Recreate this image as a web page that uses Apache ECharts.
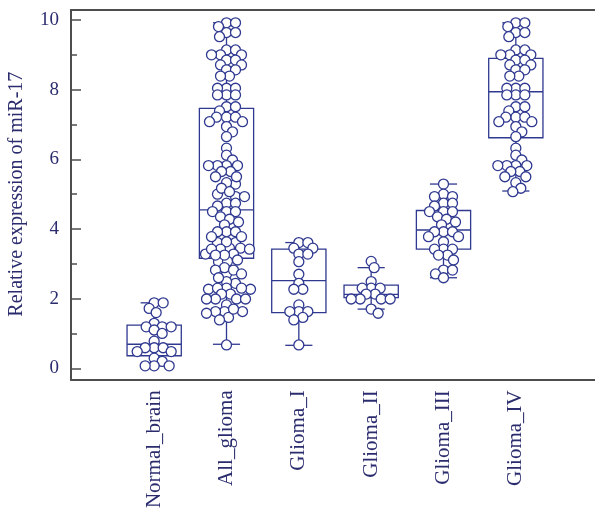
<!DOCTYPE html>
<html>
<head>
<meta charset="utf-8">
<script src="https://cdn.jsdelivr.net/npm/echarts@6/dist/echarts.min.js"></script>
<style>
  html, body { margin: 0; padding: 0; background: #fff; }
  #chart { width: 595px; height: 510px; }
</style>
</head>
<body>
<div id="chart"></div>
<script>
var categories = ['Normal_brain', 'All_glioma', 'Glioma_I', 'Glioma_II', 'Glioma_III', 'Glioma_IV'];
var yTicks = [0, 2, 4, 6, 8, 10];

// individual samples
var normalBrain = [1.88, 1.88, 1.72, 1.60, 1.29, 1.19, 1.19, 1.19, 1.10, 1.00, 0.78, 0.59, 0.59, 0.59, 0.48, 0.48, 0.29, 0.20, 0.07, 0.07, 0.07];
var gliomaI = [3.61, 3.61, 3.45, 3.45, 3.28, 3.28, 3.06, 2.70, 2.44, 2.27, 2.27, 1.82, 1.63, 1.63, 1.63, 1.46, 1.39, 0.67];
var gliomaII = [3.07, 2.89, 2.49, 2.30, 2.30, 2.30, 2.13, 2.13, 1.99, 1.99, 1.99, 1.99, 1.70, 1.58];
var gliomaIII = [5.29, 5.00, 4.93, 4.93, 4.74, 4.74, 4.66, 4.50, 4.50, 4.50, 4.35, 4.28, 4.20, 4.12, 3.92, 3.92, 3.92, 3.78, 3.78, 3.63, 3.42, 3.42, 3.42, 3.25, 3.25, 3.11, 2.82, 2.82, 2.71, 2.60];
var gliomaIV = [9.92, 9.92, 9.81, 9.64, 9.64, 9.52, 9.14, 9.14, 9.00, 9.00, 9.00, 8.85, 8.85, 8.71, 8.71, 8.57, 8.57, 8.39, 8.39, 8.04, 8.04, 8.04, 7.85, 7.85, 7.85, 7.51, 7.51, 7.39, 7.21, 7.21, 7.21, 7.08, 7.08, 6.94, 6.79, 6.65, 6.32, 6.12, 5.98, 5.82, 5.82, 5.82, 5.82, 5.65, 5.65, 5.50, 5.50, 5.33, 5.17, 5.07];
// all glioma = every graded sample together
var allGlioma = gliomaI.concat(gliomaII, gliomaIII, gliomaIV);

// box stats: [min, Q1, median, Q3, max]
var boxStats = [
    [0.07, 0.36, 0.69, 1.24, 1.88],
    [0.69, 3.16, 4.55, 7.46, 9.92],
    [0.66, 1.60, 2.52, 3.42, 3.61],
    [1.70, 2.03, 2.12, 2.39, 2.89],
    [2.60, 3.42, 3.97, 4.53, 5.29],
    [5.09, 6.62, 7.94, 8.90, 9.92]
];

var groups = [normalBrain, allGlioma, gliomaI, gliomaII, gliomaIII, gliomaIV];

var navy = '#2f3990';
var textNavy = '#2b2c6e';
var frameColor = '#4d4d4d';
var serif = 'Liberation Serif';

var chart = echarts.init(document.getElementById('chart'));

// beeswarm: push points sideways (pixels) until they stop colliding (elliptic footprint)
function swarm(vals, pxPerUnit, rx, ry) {
    var idx = vals.map(function (v, i) { return i; });
    idx.sort(function (a, b) { return vals[b] - vals[a]; });
    var placed = [];
    var offsets = new Array(vals.length);
    idx.forEach(function (i) {
        var y = vals[i] * pxPerUnit;
        var cands = [0];
        for (var k = 1; k < 60; k++) { cands.push(k, -k); }
        for (var c = 0; c < cands.length; c++) {
            var x = cands[c];
            var ok = true;
            for (var p = 0; p < placed.length; p++) {
                var dx = (placed[p][0] - x) / rx, dy = (placed[p][1] - y) / ry;
                if (dx * dx + dy * dy < 1) { ok = false; break; }
            }
            if (ok) { placed.push([x, y]); offsets[i] = x; break; }
        }
    });
    return offsets;
}

function renderBox(params, api) {
    var i = api.value(0);
    var lo = api.coord([i, api.value(1)]);
    var q1 = api.coord([i, api.value(2)]);
    var med = api.coord([i, api.value(3)]);
    var q3 = api.coord([i, api.value(4)]);
    var hi = api.coord([i, api.value(5)]);
    var w = api.size([1, 0])[0] * 0.75;
    var cap = w / 2;
    var cx = med[0];
    var st = { stroke: navy, lineWidth: 1.3, fill: null };
    return {
        type: 'group',
        children: [
            { type: 'rect', shape: { x: cx - w / 2, y: q3[1], width: w, height: q1[1] - q3[1] }, style: st },
            { type: 'line', shape: { x1: cx - w / 2, y1: med[1], x2: cx + w / 2, y2: med[1] }, style: st },
            { type: 'line', shape: { x1: cx, y1: q3[1], x2: cx, y2: hi[1] }, style: st },
            { type: 'line', shape: { x1: cx, y1: q1[1], x2: cx, y2: lo[1] }, style: st },
            { type: 'line', shape: { x1: cx - cap / 2, y1: hi[1], x2: cx + cap / 2, y2: hi[1] }, style: st },
            { type: 'line', shape: { x1: cx - cap / 2, y1: lo[1], x2: cx + cap / 2, y2: lo[1] }, style: st }
        ]
    };
}

function buildPoints(pxPerUnit) {
    var pts = [];
    groups.forEach(function (vals, gi) {
        var offs = swarm(vals, pxPerUnit, 9, 6.5);
        vals.forEach(function (v, j) {
            pts.push({ value: [gi, v], symbolOffset: [offs[j], 0] });
        });
    });
    return pts;
}

var option = {
    animation: false,
    grid: [
        { left: 71, right: -5, top: 10, height: 370, outerBoundsMode: 'none' },
        { left: 118, width: 434, top: 20, height: 348.3, outerBoundsMode: 'none' }
    ],
    xAxis: [
        { gridIndex: 0, type: 'value', min: 0, max: 1, position: 'bottom',
          axisLine: { show: true, lineStyle: { color: frameColor, width: 2 } },
          axisTick: { show: false }, axisLabel: { show: false }, splitLine: { show: false } },
        { gridIndex: 0, type: 'value', min: 0, max: 1, position: 'top',
          axisLine: { show: true, lineStyle: { color: frameColor, width: 2 } },
          axisTick: { show: false }, axisLabel: { show: false }, splitLine: { show: false } },
        { gridIndex: 1, type: 'category', data: categories, boundaryGap: true,
          axisLine: { show: false }, axisTick: { show: false },
          axisLabel: { rotate: 90, margin: 22, interval: 0, color: textNavy, fontFamily: serif, fontSize: 21 } }
    ],
    yAxis: [
        { gridIndex: 0, type: 'value', min: 0, max: 1,
          axisLine: { show: true, lineStyle: { color: frameColor, width: 2 } },
          axisTick: { show: false }, axisLabel: { show: false }, splitLine: { show: false } },
        { gridIndex: 1, type: 'value', min: yTicks[0], max: yTicks[yTicks.length - 1], interval: 2,
          offset: 47,
          name: 'Relative expression of miR-17', nameLocation: 'middle', nameGap: 44,
          nameTextStyle: { color: textNavy, fontFamily: serif, fontSize: 20 },
          axisLine: { show: false },
          axisTick: { show: true, inside: true, length: 10, lineStyle: { color: frameColor, width: 1.5 } },
          minorTick: { show: true, splitNumber: 2, length: 6, lineStyle: { color: frameColor, width: 1.5 } },
          axisLabel: { margin: 12, color: textNavy, fontFamily: serif, fontSize: 19 },
          splitLine: { show: false } }
    ],
    series: [
        { type: 'custom', xAxisIndex: 2, yAxisIndex: 1, renderItem: renderBox, z: 2,
          encode: { x: 0, y: [1, 2, 3, 4, 5] },
          data: boxStats.map(function (s, i) { return [i].concat(s); }) },
        { type: 'scatter', xAxisIndex: 2, yAxisIndex: 1, z: 3,
          symbol: 'circle', symbolSize: 10,
          itemStyle: { color: '#fff', borderColor: navy, borderWidth: 1.3, opacity: 1 },
          data: [] }
    ]
};

chart.setOption(option);
var pxPerUnit = chart.convertToPixel({ yAxisIndex: 1 }, 0) - chart.convertToPixel({ yAxisIndex: 1 }, 1);
chart.setOption({ series: [{}, { data: buildPoints(pxPerUnit) }] });
</script>
</body>
</html>
